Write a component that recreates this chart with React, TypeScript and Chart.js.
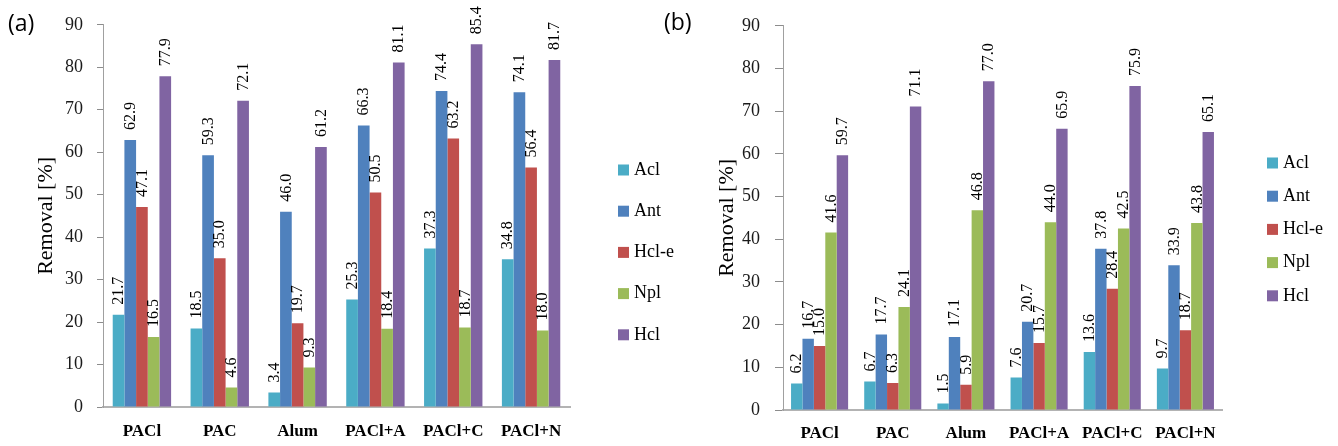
import React, { useEffect, useRef } from "react";
import { Chart, registerables } from "chart.js";

Chart.register(...registerables);

const categories = ["PACl", "PAC", "Alum", "PACl+A", "PACl+C", "PACl+N"];
const seriesNames = ["Acl", "Ant", "Hcl-e", "Npl", "Hcl"];
const seriesColors = ["#4BACC6", "#4F81BD", "#C0504D", "#9BBB59", "#8064A2"];
const yMin = 0;
const yMax = 90;
const yStep = 10;
const axisTitle = "Removal [%]";

// Panel (a)
const aAcl = [21.7, 18.5, 3.4, 25.3, 37.3, 34.8];
const aAnt = [62.9, 59.3, 46.0, 66.3, 74.4, 74.1];
const aHcle = [47.1, 35.0, 19.7, 50.5, 63.2, 56.4];
const aNpl = [16.5, 4.6, 9.3, 18.4, 18.7, 18.0];
const aHcl = [77.9, 72.1, 61.2, 81.1, 85.4, 81.7];

// Panel (b)
const bAcl = [6.2, 6.7, 1.5, 7.6, 13.6, 9.7];
const bAnt = [16.7, 17.7, 17.1, 20.7, 37.8, 33.9];
const bHcle = [15.0, 6.3, 5.9, 15.7, 28.4, 18.7];
const bNpl = [41.6, 24.1, 46.8, 44.0, 42.5, 43.8];
const bHcl = [59.7, 71.1, 77.0, 65.9, 75.9, 65.1];

const SERIF = "'Liberation Serif', 'Times New Roman', serif";
const SANS = "'Open Sans', 'Noto Sans', sans-serif";

type PanelCfg = {
  tag: string;
  series: number[][];
  left: number;
  width: number;
  axisLeft: number;
  plotTop: number;
  rightPad: number;
  xH: number;
  xPad: number;
  tickLen: number;
  tickPad: number;
  titlePad: number;
  catPct: number;
  legendX: number;
  legendY0: number;
  legendStep: number;
  tagX: number;
  tagY: number;
};

const panels: PanelCfg[] = [
  {
    tag: "(a)",
    series: [aAcl, aAnt, aHcle, aNpl, aHcl],
    left: 0,
    width: 690,
    axisLeft: 103,
    plotTop: 17,
    rightPad: 120,
    xH: 39,
    xPad: 14,
    tickLen: 6,
    tickPad: 14,
    titlePad: 33,
    catPct: 0.75,
    legendX: 618,
    legendY0: 170,
    legendStep: 41.2,
    tagX: 8,
    tagY: 24,
  },
  {
    tag: "(b)",
    series: [bAcl, bAnt, bHcle, bNpl, bHcl],
    left: 660,
    width: 678,
    axisLeft: 123,
    plotTop: 13,
    rightPad: 116,
    xH: 36,
    xPad: 13,
    tickLen: 8,
    tickPad: 15,
    titlePad: 54,
    catPct: 0.78,
    legendX: 607,
    legendY0: 163,
    legendStep: 33.2,
    tagX: 4,
    tagY: 23,
  },
];

function Panel({ cfg }: { cfg: PanelCfg }) {
  const ref = useRef<HTMLCanvasElement>(null);

  useEffect(() => {
    if (!ref.current) return;
    const deco = {
      id: "deco",
      afterDatasetsDraw(chart: any) {
        const ctx = chart.ctx;
        ctx.save();
        ctx.fillStyle = "#000";
        ctx.font = `16px ${SERIF}`;
        ctx.textAlign = "left";
        ctx.textBaseline = "middle";
        chart.data.datasets.forEach((ds: any, di: number) => {
          const meta = chart.getDatasetMeta(di);
          meta.data.forEach((el: any, i: number) => {
            const v = ds.data[i] as number;
            ctx.save();
            ctx.translate(el.x + 0.5, el.y - 10);
            ctx.rotate(-Math.PI / 2);
            ctx.fillText(v.toFixed(1), 0, 0);
            ctx.restore();
          });
        });
        ctx.restore();
      },
      afterDraw(chart: any) {
        const ctx = chart.ctx;
        ctx.save();
        // legend
        ctx.font = `18px ${SERIF}`;
        ctx.textAlign = "left";
        ctx.textBaseline = "middle";
        chart.data.datasets.forEach((ds: any, i: number) => {
          const y = cfg.legendY0 + i * cfg.legendStep;
          ctx.fillStyle = ds.backgroundColor;
          ctx.fillRect(cfg.legendX, y - 5.5, 11, 11);
          ctx.fillStyle = "#000";
          ctx.fillText(ds.label, cfg.legendX + 16, y);
        });
        // panel tag
        ctx.font = `23px ${SANS}`;
        ctx.fillStyle = "#000";
        ctx.fillText(cfg.tag, cfg.tagX, cfg.tagY);
        ctx.restore();
      },
    };

    const chart = new Chart(ref.current, {
      type: "bar",
      data: {
        labels: categories,
        datasets: cfg.series.map((d, i) => ({
          label: seriesNames[i],
          data: d,
          backgroundColor: seriesColors[i],
          borderWidth: 0,
          categoryPercentage: cfg.catPct,
          barPercentage: 1,
        })),
      },
      options: {
        animation: false,
        responsive: true,
        maintainAspectRatio: false,
        layout: { padding: { left: 0, top: cfg.plotTop, right: cfg.rightPad, bottom: 0 } },
        plugins: { legend: { display: false }, tooltip: { enabled: false } },
        scales: {
          x: {
            grid: { display: true, drawOnChartArea: false, drawTicks: false },
            border: { color: "#b3b3b3", width: 2 },
            ticks: {
              font: { family: SERIF, size: 17, weight: "bold" },
              color: "#000",
              padding: cfg.xPad,
              maxRotation: 0,
              autoSkip: false,
            },
            afterFit: (s: any) => {
              s.height = cfg.xH;
            },
          },
          y: {
            min: yMin,
            max: yMax,
            ticks: {
              stepSize: yStep,
              font: { family: SERIF, size: 18 },
              color: "#1a1a1a",
              padding: cfg.tickPad,
            },
            grid: {
              drawOnChartArea: false,
              drawTicks: true,
              tickLength: cfg.tickLen,
              color: "#8c8c8c",
            },
            border: { color: "#a0a0a0", width: 1 },
            title: {
              display: true,
              text: axisTitle,
              font: { family: SERIF, size: 22 },
              color: "#000",
              padding: { top: cfg.titlePad, bottom: 0 },
            },
            afterFit: (s: any) => {
              s.width = cfg.axisLeft;
            },
          },
        },
      } as any,
      plugins: [deco],
    });
    return () => chart.destroy();
  }, [cfg]);

  return (
    <div
      style={{
        position: "absolute",
        left: cfg.left,
        top: 0,
        width: cfg.width,
        height: 446,
      }}
    >
      <canvas ref={ref} />
    </div>
  );
}

export default function App() {
  return (
    <div
      style={{
        position: "absolute",
        left: 0,
        top: 0,
        width: 1338,
        height: 446,
        background: "#fff",
        overflow: "hidden",
      }}
    >
      {panels.map((p) => (
        <Panel key={p.tag} cfg={p} />
      ))}
    </div>
  );
}
